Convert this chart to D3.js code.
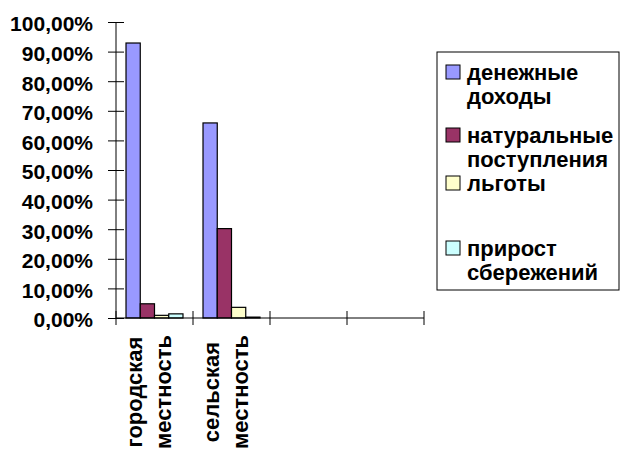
<!DOCTYPE html>
<html>
<head>
<meta charset="utf-8">
<script src="https://cdn.jsdelivr.net/npm/d3@7"></script>
<style>
    body { margin: 0; background: #fff; }
</style>
</head>
<body>
<div id="chart"></div>
<script>
// categories (two empty slots on the axis, as in the original)
const categories = [["городская", "местность"], ["сельская", "местность"], [], []];
const seriesNames = [["денежные", "доходы"], ["натуральные", "поступления"], ["льготы"], ["прирост", "сбережений"]];
const seriesColors = ["#9999FF", "#993366", "#FFFFCC", "#CCFFFF"];
const urbanValues = [0.929, 0.048, 0.009, 0.014];
const ruralValues = [0.659, 0.302, 0.036, 0.003];
const yTicks = [0, 0.1, 0.2, 0.3, 0.4, 0.5, 0.6, 0.7, 0.8, 0.9, 1.0];

const values = [urbanValues, ruralValues, [], []];

const width = 620, height = 451;
const FONT = "'Liberation Sans', Arial, sans-serif";

let svg = d3.select("#chart").append("svg")
    .attr("width", width)
    .attr("height", height)
    .attr("font-family", FONT)
    .attr("font-weight", 700);

let y = d3.scaleLinear().domain([0, 1]).range([318, 22]);

let x = d3.scaleBand()
    .domain(d3.range(categories.length))
    .range([116, 424]);

let x1 = d3.scaleBand()
    .domain(d3.range(seriesNames.length))
    .range([x.bandwidth() * 0.13, x.bandwidth() * 0.87]);

let fmt = d => d3.format(".2f")(d * 100).replace(".", ",") + "%";

// y axis
let yAxisGroup = svg.append("g")
    .attr("transform", "translate(116,0)")
    .call(d3.axisLeft(y).tickValues(yTicks).tickFormat(fmt).tickSize(8).tickPadding(15))
    .attr("font-family", FONT)
    .attr("font-size", 21);

yAxisGroup.select(".domain").attr("d", "M0," + y(1) + "V" + y(0)).attr("stroke", "#000");
yAxisGroup.selectAll(".tick line").attr("x1", -8).attr("x2", 8).attr("stroke", "#000");
yAxisGroup.selectAll(".tick text")
    .attr("dy", "0.42em")
    .attr("font-weight", 700)
    .attr("fill", "#000");

// bars
let groups = svg.selectAll(".cat")
    .data(values)
    .enter()
    .append("g")
    .attr("class", "cat")
    .attr("transform", (d, i) => "translate(" + x(i) + ",0)");

groups.selectAll("rect")
    .data(d => d)
    .enter()
    .append("rect")
    .attr("x", (d, i) => x1(i))
    .attr("width", x1.bandwidth())
    .attr("y", d => y(d))
    .attr("height", d => y(0) - y(d))
    .attr("fill", (d, i) => seriesColors[i])
    .attr("stroke", "#000")
    .attr("stroke-width", 1.2);

// x axis with crossing ticks at category boundaries
svg.append("line")
    .attr("x1", x.range()[0]).attr("x2", x.range()[1])
    .attr("y1", y(0)).attr("y2", y(0))
    .attr("stroke", "#000");

let bounds = d3.range(categories.length).map(i => x(i)).concat([x.range()[1]]);
svg.selectAll(".xtick")
    .data(bounds)
    .enter()
    .append("line")
    .attr("class", "xtick")
    .attr("x1", d => d).attr("x2", d => d)
    .attr("y1", y(0) - 7).attr("y2", y(0) + 7)
    .attr("stroke", "#000");

// category labels, rotated
categories.forEach((lines, i) => {
    let cx = x(i) + x.bandwidth() / 2;
    lines.forEach((t, j) => {
        let lx = cx + (j - (lines.length - 1) / 2) * 29 + 2;
        svg.append("text")
            .attr("transform", "translate(" + lx + ",392) rotate(-90)")
            .attr("text-anchor", "middle")
            .attr("font-size", 22)
            .attr("font-weight", 700)
            .attr("fill", "#000")
            .text(t);
    });
});

// legend
svg.append("rect")
    .attr("x", 437).attr("y", 52)
    .attr("width", 182).attr("height", 238)
    .attr("fill", "#fff")
    .attr("stroke", "#000");

let legendTops = [65, 128, 176, 241];
let legend = svg.selectAll(".legend")
    .data(seriesNames)
    .enter()
    .append("g")
    .attr("class", "legend")
    .attr("transform", (d, i) => "translate(446," + legendTops[i] + ")");

legend.append("rect")
    .attr("width", 14).attr("height", 14)
    .attr("fill", (d, i) => seriesColors[i])
    .attr("stroke", "#000");

legend.each(function (d) {
    let g = d3.select(this);
    d.forEach((t, j) => {
        g.append("text")
            .attr("x", 21)
            .attr("y", 15 + j * 24)
            .attr("font-size", 22)
            .attr("font-weight", 700)
            .attr("fill", "#000")
            .text(t);
    });
});
</script>
</body>
</html>
